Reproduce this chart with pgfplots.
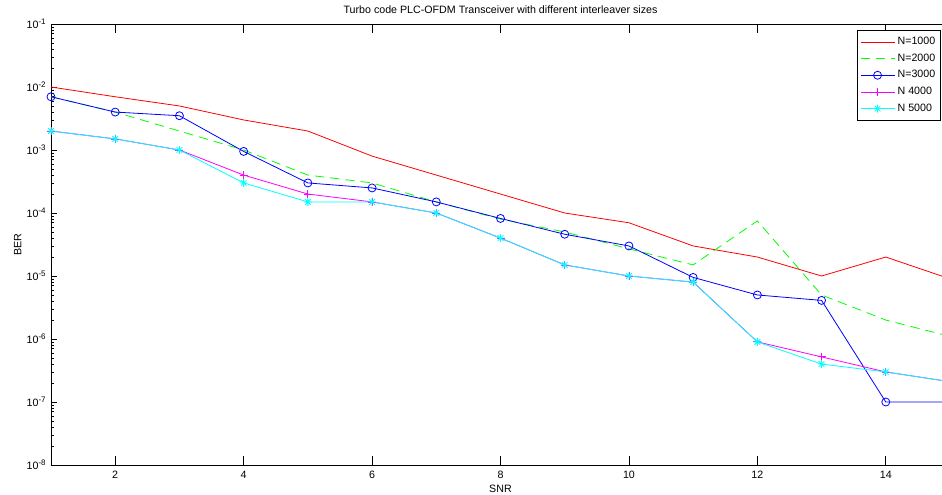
\documentclass[border=0pt]{standalone}
\usepackage{pgfplots}
\pgfplotsset{compat=1.18}
\usepackage{fontspec}
\setmainfont{Liberation Sans}
\definecolor{mred}{rgb}{1,0,0}
\definecolor{mgreen}{rgb}{0,1,0}
\definecolor{mblue}{rgb}{0,0,1}
\definecolor{mmagenta}{rgb}{1,0,1}
\definecolor{mcyan}{rgb}{0,1,1}
\newcommand{\fs}{\fontsize{8}{9.6}\selectfont}
\pgfdeclareplotmark{mstar}{%
  \pgfpathmoveto{\pgfqpoint{-\pgfplotmarksize}{0pt}}\pgfpathlineto{\pgfqpoint{\pgfplotmarksize}{0pt}}%
  \pgfpathmoveto{\pgfqpoint{0pt}{-\pgfplotmarksize}}\pgfpathlineto{\pgfqpoint{0pt}{\pgfplotmarksize}}%
  \pgfpathmoveto{\pgfqpoint{-0.707\pgfplotmarksize}{-0.707\pgfplotmarksize}}\pgfpathlineto{\pgfqpoint{0.707\pgfplotmarksize}{0.707\pgfplotmarksize}}%
  \pgfpathmoveto{\pgfqpoint{-0.707\pgfplotmarksize}{0.707\pgfplotmarksize}}\pgfpathlineto{\pgfqpoint{0.707\pgfplotmarksize}{-0.707\pgfplotmarksize}}%
  \pgfusepathqstroke}
\begin{document}
\begin{tikzpicture}
\begin{axis}[
  ymode=log,
  scale only axis,
  width=674.25pt, height=330.75pt,
  xmin=1, xmax=15, ymin=1e-8, ymax=1e-1,
  xtick={2,4,6,8,10,12,14},
  ytick={1e-8,1e-7,1e-6,1e-5,1e-4,1e-3,1e-2,1e-1},
  yticklabels={10\textsuperscript{-8},10\textsuperscript{-7},10\textsuperscript{-6},10\textsuperscript{-5},10\textsuperscript{-4},10\textsuperscript{-3},10\textsuperscript{-2},10\textsuperscript{-1}},
  /pgf/number format/assume math mode=true,
  tick align=inside,
  major tick length=4.5pt, minor tick length=2.4pt,
  xtick style={/pgfplots/major tick length=6.75pt},
  tick style={black, line width=0.5pt},
  axis line style={black, line width=0.6pt},
  tick label style={font=\fs},
  xticklabel style={yshift=-1pt},
  every axis title shift=0pt,
  title={Turbo code PLC-OFDM Transceiver with different interleaver sizes},
  title style={font=\fs, at={(rel axis cs:0.5,1)}, anchor=center, yshift=10.5pt},
  xlabel={SNR},
  xlabel style={font=\fs, at={(rel axis cs:0.5,0)}, anchor=center, yshift=-18pt},
  ylabel={BER},
  ylabel style={font=\fs, at={(rel axis cs:0,0.5)}, anchor=center, yshift=25pt},
  legend style={at={(rel axis cs:0.990,0.986)}, anchor=north east, draw=black, line width=0.6pt, font=\fs,
    nodes={inner sep=2pt}, row sep=1.4pt, inner xsep=2pt, inner ysep=3pt},
  legend cell align=left,
  legend image code/.code={\draw[mark repeat=2,mark phase=2,#1] plot coordinates {(0pt,0pt) (12.75pt,0pt) (25.5pt,0pt)};},
  every axis plot/.append style={line width=0.6pt},
]
\addplot[color=mred, mark=none] coordinates {
 (1,1e-2)(2,7e-3)(3,5e-3)(4,3e-3)(5,2e-3)(6,8e-4)(7,4e-4)(8,2e-4)(9,1e-4)(10,7e-5)(11,3e-5)(12,2e-5)(13,1e-5)(14,2e-5)(15,9e-6)};
\addlegendentry{N=1000}
\addplot[color=mgreen, mark=none, dash pattern=on 7pt off 4.5pt] coordinates {
 (1,7e-3)(2,4e-3)(3,2e-3)(4,1e-3)(5,4e-4)(6,3e-4)(7,1.5e-4)(8,8e-5)(9,5e-5)(10,2.7e-5)(11,1.5e-5)(12,7.5e-5)(13,5e-6)(14,2e-6)(15,1.1e-6)};
\addlegendentry{N=2000}
\addplot[color=mblue, mark=o, mark size=3pt, mark options={solid}] coordinates {
 (1,7e-3)(2,4e-3)(3,3.5e-3)(4,9.5e-4)(5,3e-4)(6,2.5e-4)(7,1.5e-4)(8,8.2e-5)(9,4.6e-5)(10,3e-5)(11,9.5e-6)(12,5e-6)(13,4.1e-6)(14,1e-7)(15,1e-7)};
\addlegendentry{N=3000}
\addplot[color=mmagenta, mark=+, mark size=3pt] coordinates {
 (1,2e-3)(2,1.5e-3)(3,1e-3)(4,4e-4)(5,2e-4)(6,1.5e-4)(7,1e-4)(8,4e-5)(9,1.5e-5)(10,1e-5)(11,8e-6)(12,9e-7)(13,5.2e-7)(14,3e-7)(15,2.1e-7)};
\addlegendentry{N 4000}
\addplot[color=mcyan, mark=mstar, mark size=3pt] coordinates {
 (1,2e-3)(2,1.5e-3)(3,1e-3)(4,3e-4)(5,1.5e-4)(6,1.5e-4)(7,1e-4)(8,4e-5)(9,1.5e-5)(10,1e-5)(11,8e-6)(12,9e-7)(13,4e-7)(14,3e-7)(15,2.1e-7)};
\addlegendentry{N 5000}
\coordinate (bl) at (rel axis cs:0,0);
\coordinate (tr) at (rel axis cs:1,1);
\end{axis}
\pgfresetboundingbox
\path[use as bounding box] ([xshift=-38.25pt,yshift=-22.5pt]bl) rectangle ([xshift=-6pt,yshift=18pt]tr);
\end{tikzpicture}
\end{document}
